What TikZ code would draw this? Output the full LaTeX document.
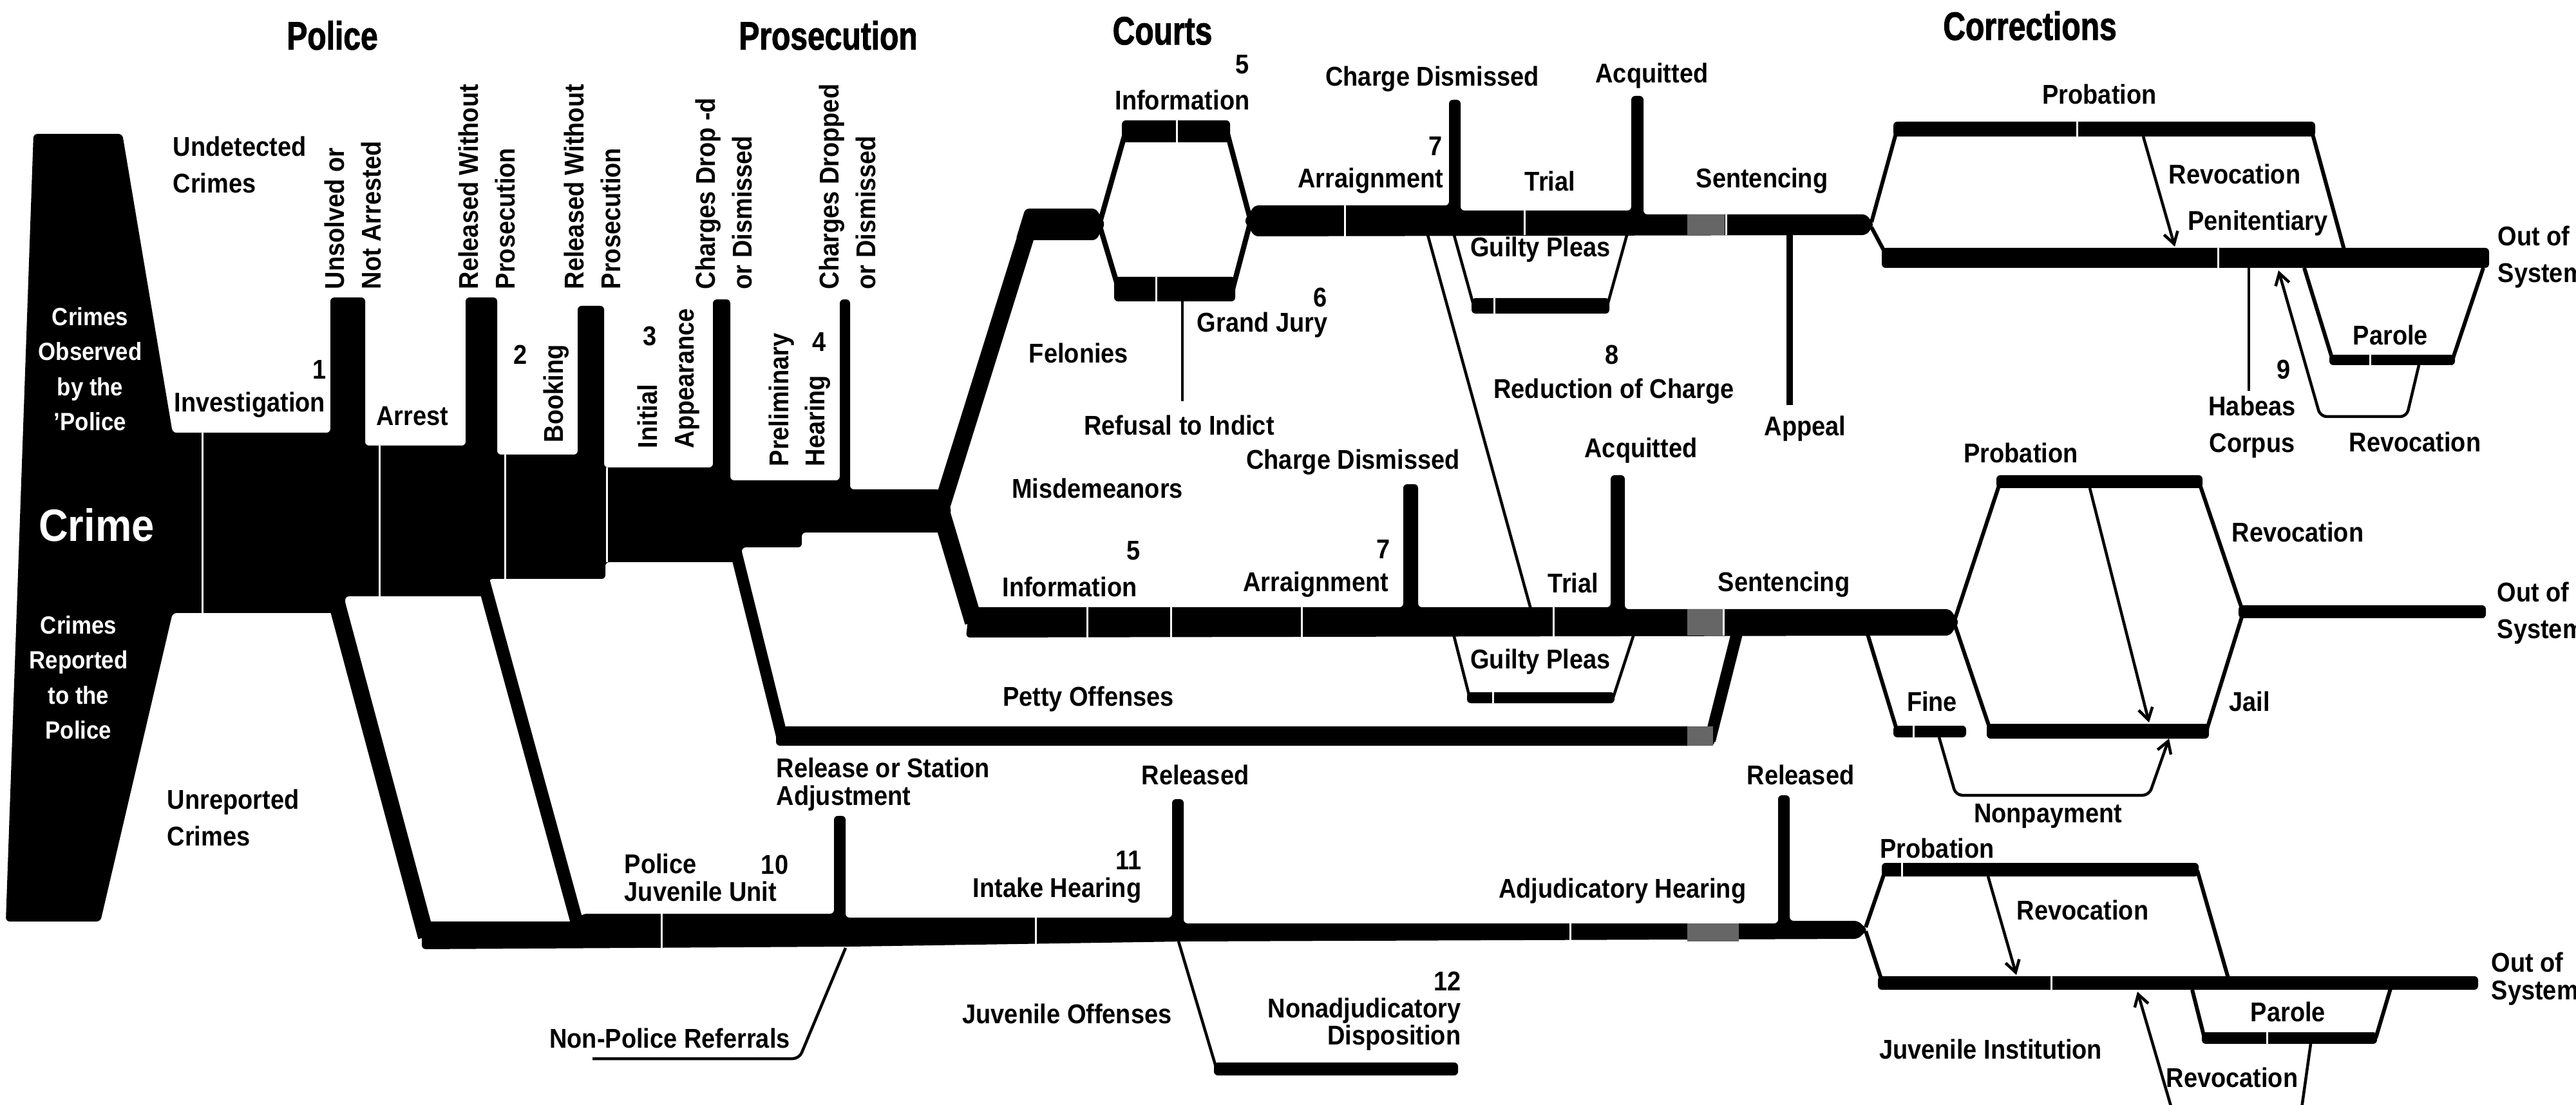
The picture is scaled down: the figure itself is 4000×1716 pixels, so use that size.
\documentclass[tikz,border=0pt]{standalone}
\usepackage{fontspec}
\usepackage{tikz}
\usetikzlibrary{arrows.meta}

\newfontfamily\labelfam{Liberation Sans}[FakeStretch=0.9]
\newfontfamily\titlefam{Liberation Sans}[FakeStretch=0.78, FakeBold=1.5]
\newcommand\lblfont{\labelfam\bfseries\fontsize{12}{16}\selectfont}
\newcommand\tightfont{\labelfam\bfseries\fontsize{12}{12}\selectfont}
\newcommand\crimefont{\labelfam\bfseries\fontsize{11}{15.5}\selectfont}
\newcommand\bigcrimefont{\labelfam\bfseries\fontsize{20}{24}\selectfont}
\newcommand\ttlfont{\titlefam\bfseries\fontsize{17.5}{20}\selectfont}

\begin{document}
\begin{tikzpicture}[
  x=0.01cm, y=-0.01cm,
  band/.style={fill=black, rounded corners=0.6mm},
  link/.style={draw=black, line width=#1},
  leg/.style={draw=black, line width=0.6mm},
  wire/.style={draw=black, line width=0.45mm, rounded corners=1mm},
  arr/.style={wire, -{Straight Barb[length=1.8mm, width=2.2mm]}},
  cut/.style={draw=white, line width=0.3mm},
  grayband/.style={fill=black!60},
  lbl/.style={font=\lblfont, inner sep=0pt, align=center},
  tight/.style={lbl, font=\tightfont},
  vlbl/.style={lbl, rotate=90, anchor=west, align=left},
  wlbl/.style={lbl, font=\crimefont, text=white},
  ttl/.style={font=\ttlfont, inner sep=0pt}
]
\useasboundingbox (0,0) rectangle (4000,1716);

\fill[band] (52,208) -- (190,208) -- (268,672) -- (513,672) -- (513,462) -- (567,462) -- (567,692)
  -- (723,692) -- (723,462) -- (772,462) -- (772,706) -- (897,706) -- (897,475) -- (938,475)
  -- (938,726) -- (1107,726) -- (1107,465) -- (1134,465) -- (1134,746) -- (1304,746) -- (1304,465)
  -- (1320,465) -- (1320,760) -- (1460,760) -- (1478,793) -- (1460,827) -- (1245,827) -- (1245,850)
  -- (1152,850) -- (1152,873) -- (940,873) -- (940,899) -- (759,899) -- (759,926) -- (536,926)
  -- (536,952) -- (268,952) -- (156,1431) -- (9,1431) -- cycle;

\draw[link=2.6mm] (519,922) -- (662,1455);
\draw[link=2mm] (750,900) -- (898,1440);
\draw[link=1.8mm] (1143,858) -- (1214,1143);

\fill[band] (655,1431) -- (893,1431) -- (905,1419) -- (1295,1419) -- (1295,1267) -- (1313,1267)
  -- (1313,1425) -- (1820,1425) -- (1820,1241) -- (1838,1241) -- (1838,1434) -- (2761,1434)
  -- (2761,1235) -- (2779,1235) -- (2779,1430) -- (2885,1430) -- (2900,1444) -- (2885,1458)
  -- (1840,1462) -- (1320,1470) -- (655,1474) -- cycle;
\draw[wire] (920,1644) -- (1241,1644) -- (1313,1472);
\draw[wire] (1830,1462) -- (1889,1660);
\fill[band] (1885,1650) rectangle (2264,1670);

\draw[link=2.6mm] (1458,800) -- (1600,345);
\fill[band] (1592,324) -- (1702,324) -- (1716,348) -- (1702,373) -- (1577,373) -- cycle;
\draw[link=0.8mm] (1708,345) -- (1748,204);
\fill[band] (1742,187) rectangle (1910,221);
\draw[link=0.8mm] (1905,204) -- (1942,343);
\draw[link=0.8mm] (1708,352) -- (1737,449);
\fill[band] (1730,430) rectangle (1918,468);
\draw[link=0.8mm] (1914,449) -- (1942,343);
\draw[wire] (1836,466) -- (1836,623);

\fill[band] (1932,343) -- (1948,319) -- (2250,319) -- (2250,155) -- (2268,155) -- (2268,327)
  -- (2533,327) -- (2533,149) -- (2552,149) -- (2552,333) -- (2898,333) -- (2910,349)
  -- (2898,365) -- (1948,367) -- cycle;
\draw[wire] (2257,362) -- (2287,470);
\fill[band] (2285,463) rectangle (2499,487);
\draw[wire] (2497,470) -- (2527,362);
\draw[wire] (2217,365) -- (2377,946);
\draw[link=1mm] (2779,360) -- (2779,629);

\draw[link=2.8mm] (1458,785) -- (1512,966);
\fill[band] (1505,943) -- (2179,943) -- (2179,752) -- (2202,752) -- (2202,943) -- (2501,943)
  -- (2501,738) -- (2523,738) -- (2523,946) -- (3028,946) -- (3042,966) -- (3028,987)
  -- (1500,990) -- cycle;
\draw[wire] (2257,985) -- (2282,1083);
\fill[band] (2278,1075) rectangle (2507,1092);
\draw[wire] (2505,1083) -- (2537,985);
\fill[band] (1205,1128) rectangle (2662,1158);
\draw[link=1.8mm] (2655,1150) -- (2698,980);

\draw[leg] (2906,345) -- (2946,200);
\fill[band] (2940,189) rectangle (3595,212);
\draw[leg] (3590,205) -- (3642,395);
\draw[leg] (2906,353) -- (2930,398);
\fill[band] (2922,385) rectangle (3865,416);
\draw[arr] (3328,212) -- (3377,383);
\draw[leg] (3578,416) -- (3622,559);
\fill[band] (3617,551) rectangle (3812,567);
\draw[leg] (3808,559) -- (3856,416);
\draw[arr] (3756,567) -- (3737,647) -- (3603,647) -- (3538,420);
\draw[wire] (3492,416) -- (3492,607);

\draw[leg] (2900,985) -- (2946,1136);
\fill[band] (2940,1127) rectangle (3053,1145);
\draw[arr] (3011,1145) -- (3037,1235) -- (3337,1235) -- (3368,1147);
\draw[leg] (3036,960) -- (3106,748);
\fill[band] (3100,738) rectangle (3420,758);
\draw[leg] (3415,750) -- (3482,948);
\draw[arr] (3245,758) -- (3337,1122);
\draw[leg] (3036,972) -- (3091,1135);
\fill[band] (3085,1124) rectangle (3430,1147);
\draw[leg] (3426,1135) -- (3482,955);
\fill[band] (3476,940) rectangle (3860,960);

\draw[leg] (2897,1440) -- (2928,1350);
\fill[band] (2922,1340) rectangle (3414,1361);
\draw[leg] (3412,1352) -- (3462,1526);
\draw[leg] (2897,1446) -- (2923,1526);
\fill[band] (2916,1516) rectangle (3848,1537);
\draw[arr] (3087,1361) -- (3131,1514);
\draw[leg] (3404,1537) -- (3423,1612);
\fill[band] (3419,1603) rectangle (3691,1621);
\draw[leg] (3689,1612) -- (3712,1535);
\draw[arr] (3588,1621) -- (3572,1735) -- (3376,1735) -- (3319,1540);

\fill[grayband] (2620,333) rectangle (2678,365);
\fill[grayband] (2620,946) rectangle (2678,987);
\fill[grayband] (2620,1128) rectangle (2660,1158);
\fill[grayband] (2620,1434) rectangle (2700,1462);

\foreach \x/\a/\b in {314/672/952, 589/692/926, 784/706/899, 942/726/873, 1827/187/221,
  1795/430/468, 2088/319/367, 2367/327/365, 2680/333/365, 2320/463/487, 1688/943/990,
  1818/943/990, 2021/943/990, 2412/943/990, 2676/946/987, 2318/1075/1092, 2971/1127/1145,
  3225/189/212, 3444/385/416, 3680/551/567, 1027/1419/1474, 1608/1425/1470, 2438/1434/1462,
  2953/1340/1361, 3185/1516/1537, 3520/1603/1621}
  \draw[cut] (\x,\a) -- (\x,\b);

\node[ttl] (police) at (516,55) {Police};
\node[ttl] (prosecution) at (1286,55) {Prosecution};
\node[ttl] (courts) at (1805,48) {Courts};
\node[ttl] (corrections) at (3152,40) {Corrections};

\node[wlbl] (observed) at (140,573) {Crimes\\Observed\\by the\\’Police};
\node[wlbl, font=\bigcrimefont] (crime) at (150,815) {Crime};
\node[wlbl] (reported) at (122,1052) {Crimes\\Reported\\to the\\Police};
\node[lbl, anchor=west, align=left] (undetected) at (268,256) {Undetected\\Crimes};
\node[lbl, anchor=west, align=left] (unreported) at (259,1270) {Unreported\\Crimes};

\node[vlbl] (unsolved) at (548,450) {Unsolved or\\Not Arrested};
\node[vlbl] (relarrest) at (756,450) {Released Without\\Prosecution};
\node[vlbl] (relbooking) at (920,450) {Released Without\\Prosecution};
\node[vlbl] (dropinit) at (1124,450) {Charges Drop -d\\or Dismissed};
\node[vlbl] (dropprelim) at (1316,450) {Charges Dropped\\or Dismissed};

\node[lbl] (n1) at (496,574) {1};
\node[lbl] (investigation) at (388,629) {Investigation};
\node[lbl] (arrest) at (640,646) {Arrest};
\node[lbl] (n2) at (808,551) {2};
\node[vlbl] (booking) at (864,688) {Booking};
\node[lbl] (n3) at (1009,522) {3};
\node[vlbl] (initial) at (1038,697) {Initial\\Appearance};
\node[lbl] (n4) at (1272,531) {4};
\node[vlbl] (prelim) at (1242,725) {Preliminary\\Hearing};

\node[lbl] (n5a) at (1929,100) {5};
\node[lbl] (infoa) at (1836,155) {Information};
\node[lbl] (dismisseda) at (2224,123) {Charge Dismissed};
\node[lbl] (acquitteda) at (2565,118) {Acquitted};
\node[lbl] (n7a) at (2229,227) {7};
\node[lbl, anchor=east] (arraigna) at (2242,281) {Arraignment};
\node[lbl] (triala) at (2407,281) {Trial};
\node[lbl] (pleasa) at (2392,388) {Guilty Pleas};
\node[lbl] (n6) at (2050,462) {6};
\node[lbl] (grandjury) at (1960,505) {Grand Jury};
\node[lbl] (felonies) at (1675,548) {Felonies};
\node[lbl] (n8) at (2503,551) {8};
\node[lbl] (reduction) at (2506,608) {Reduction of Charge};
\node[lbl] (refusal) at (1831,660) {Refusal to Indict};
\node[lbl] (acquittedb) at (2548,700) {Acquitted};
\node[lbl] (dismissedb) at (2101,718) {Charge Dismissed};
\node[lbl] (misdemeanors) at (1704,758) {Misdemeanors};
\node[lbl] (n5b) at (1760,855) {5};
\node[lbl] (n7b) at (2148,853) {7};
\node[lbl] (infob) at (1661,911) {Information};
\node[lbl, anchor=east] (arraignb) at (2157,908) {Arraignment};
\node[lbl] (trialb) at (2443,905) {Trial};
\node[lbl] (pleasb) at (2392,1028) {Guilty Pleas};
\node[lbl] (petty) at (1690,1086) {Petty Offenses};

\node[lbl] (sentencea) at (2736,281) {Sentencing};
\node[lbl] (appeal) at (2803,666) {Appeal};
\node[lbl] (sentenceb) at (2770,908) {Sentencing};

\node[lbl] (probationa) at (3260,146) {Probation};
\node[lbl] (revoka) at (3470,270) {Revocation};
\node[lbl] (penitentiary) at (3506,347) {Penitentiary};
\node[lbl, anchor=west, align=left] (outa) at (3878,399) {Out of\\System};
\node[lbl] (parolea) at (3712,520) {Parole};
\node[lbl] (n9) at (3546,574) {9};
\node[lbl] (habeas) at (3497,663) {Habeas\\Corpus};
\node[lbl] (revokb) at (3750,686) {Revocation};

\node[lbl] (probationb) at (3138,703) {Probation};
\node[lbl] (revokc) at (3568,826) {Revocation};
\node[lbl, anchor=west, align=left] (outb) at (3877,952) {Out of\\System};
\node[lbl] (fine) at (3000,1089) {Fine};
\node[lbl] (jail) at (3493,1089) {Jail};
\node[lbl] (nonpayment) at (3180,1267) {Nonpayment};

\node[tight, anchor=west, align=left] (station) at (1205,1218) {Release or Station\\Adjustment};
\node[lbl] (releaseda) at (1856,1203) {Released};
\node[tight, anchor=west, align=left] (juvunit) at (969,1363) {Police\\Juvenile Unit};
\node[lbl] (n10) at (1203,1343) {10};
\node[tight, anchor=east, align=right] (intake) at (1773,1362) {11\\Intake Hearing};
\node[lbl, anchor=east] (adjudicatory) at (2712,1384) {Adjudicatory Hearing};
\node[tight, anchor=east, align=right] (nonadj) at (2269,1570) {12\\Nonadjudicatory\\Disposition};
\node[lbl] (juvoffenses) at (1657,1574) {Juvenile Offenses};
\node[lbl] (referrals) at (1040,1612) {Non-Police Referrals};

\node[lbl] (releasedb) at (2796,1203) {Released};
\node[lbl] (probationc) at (3008,1317) {Probation};
\node[lbl] (revokd) at (3234,1413) {Revocation};
\node[tight, anchor=west, align=left] (outc) at (3868,1520) {Out of\\System};
\node[lbl] (paroleb) at (3553,1571) {Parole};
\node[lbl] (institution) at (3091,1629) {Juvenile Institution};
\node[lbl] (revoke) at (3466,1673) {Revocation};
\end{tikzpicture}
\end{document}
